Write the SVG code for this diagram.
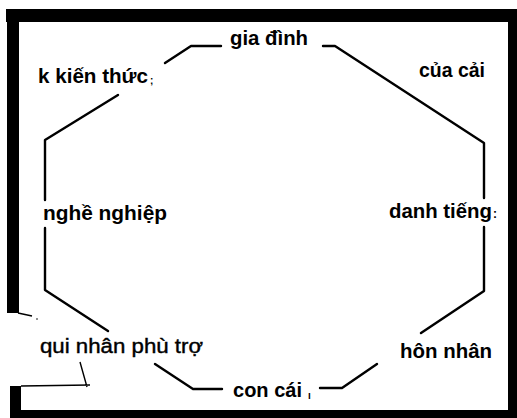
<svg xmlns="http://www.w3.org/2000/svg" width="517" height="418" viewBox="0 0 517 418">
<style>
.lbl{font-family:"Liberation Sans",Arial,sans-serif;font-weight:bold;font-size:20px;fill:#000}
.reg{font-weight:normal;stroke:#000;stroke-width:0.4}
.ln{fill:none;stroke:#000;stroke-width:2.4;stroke-linejoin:round;stroke-linecap:round}
.thin{fill:none;stroke:#000;stroke-width:1.4}
.frame{fill:#000}
</style>
<rect width="517" height="418" fill="#fff"/>
<g id="frame">
<rect class="frame" x="6" y="9" width="511" height="13"/>
<rect class="frame" x="7" y="9" width="12" height="304"/>
<rect class="frame" x="10" y="386" width="11" height="32"/>
<rect class="frame" x="508" y="9" width="9" height="409"/>
<rect class="frame" x="10" y="410" width="507" height="8"/>
<path class="thin" d="M18 313 L32 316 M21 386 L90 385 M80 362 L87 387"/>
<circle cx="37" cy="319" r="0.8" fill="#000"/>
</g>
<g id="connectors">
<path class="ln" d="M165 63 L191 46 L221 46"/>
<path class="ln" d="M323 46 L335 46 L484 143 L484 198"/>
<path class="ln" d="M484 227 L484 291 L421 333"/>
<path class="ln" d="M377 364 L342 388 L320 388"/>
<path class="ln" d="M222 389 L193 389 L155 364"/>
<path class="ln" d="M108 331 L45 290 L45 228"/>
<path class="ln" d="M45 200 L45 140 L118 95"/>
</g>
<g id="n-kienthuc"><text class="lbl" x="38" y="83" textLength="110" lengthAdjust="spacingAndGlyphs">k kiến thức</text><text class="lbl" x="150" y="84" style="font-size:10px">;</text></g>
<g id="n-giadinh"><text class="lbl" x="230" y="45" textLength="78" lengthAdjust="spacingAndGlyphs">gia đình</text></g>
<g id="n-cuacai"><text class="lbl" x="419" y="77" textLength="66" lengthAdjust="spacingAndGlyphs">của cải</text></g>
<g id="n-nghenghiep"><text class="lbl" x="43" y="220" textLength="124" lengthAdjust="spacingAndGlyphs">nghề nghiệp</text></g>
<g id="n-danhtieng"><text class="lbl" x="389" y="218" textLength="103" lengthAdjust="spacingAndGlyphs">danh tiếng</text><text class="lbl" x="493" y="218" style="font-size:12px">:</text></g>
<g id="n-quinhan"><text class="lbl reg" x="40" y="353" textLength="163" lengthAdjust="spacingAndGlyphs">qui nhân phù trợ</text></g>
<g id="n-honnhan"><text class="lbl" x="400" y="358" textLength="92" lengthAdjust="spacingAndGlyphs">hôn nhân</text></g>
<g id="n-concai"><text class="lbl" x="233" y="397" textLength="69" lengthAdjust="spacingAndGlyphs">con cái</text><text class="lbl" x="308" y="399" style="font-size:10px">ı</text></g>
</svg>
